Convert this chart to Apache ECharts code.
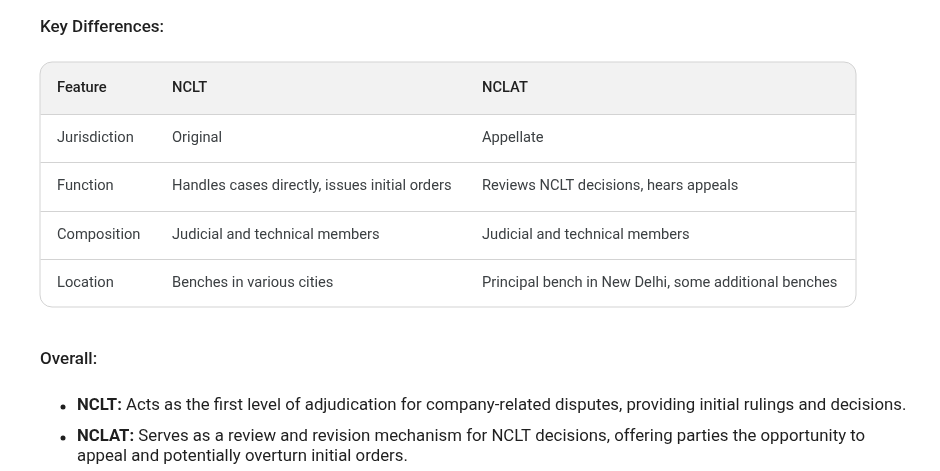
<!DOCTYPE html>
<html><head><meta charset="utf-8">
<script src="https://cdn.jsdelivr.net/npm/echarts@6/dist/echarts.min.js"></script>
<style>html,body{margin:0;background:#fff}#c{width:940px;height:471px}</style>
</head><body><div id="c"></div>
<script>
var title = "Key Differences:";
var headers = ["Feature", "NCLT", "NCLAT"];
var features = ["Jurisdiction", "Function", "Composition", "Location"];
var ncltCol = ["Original", "Handles cases directly, issues initial orders", "Judicial and technical members", "Benches in various cities"];
var nclatCol = ["Appellate", "Reviews NCLT decisions, hears appeals", "Judicial and technical members", "Principal bench in New Delhi, some additional benches"];
var overallTitle = "Overall:";
var bulletTerms = ["NCLT:", "NCLAT:"];
var bulletLines = [
  [" Acts as the first level of adjudication for company-related disputes, providing initial rulings and decisions."],
  [" Serves as a review and revision mechanism for NCLT decisions, offering parties the opportunity to", "appeal and potentially overturn initial orders."]
];

var FONT = "Roboto, 'Noto Sans', sans-serif";
var chart = echarts.init(document.getElementById('c'));
var g = [];
var colX = [57, 172, 482];
var rowY = [88, 138, 186, 235, 283];
var lineY = [114, 162, 211, 259];
g.push({type:'text', x:40, y:28, style:{text:title, font:'500 17px '+FONT, fill:'#1f1f1f', verticalAlign:'middle'}});
g.push({type:'rect', shape:{x:40, y:62, width:816, height:52, r:[12,12,0,0]}, style:{fill:'#f2f2f2'}});
g.push({type:'rect', shape:{x:40, y:62, width:816, height:245, r:12}, style:{fill:'none', stroke:'#d3d3d3', lineWidth:1}});
lineY.forEach(function(y){ g.push({type:'line', shape:{x1:40.5, y1:y+0.5, x2:855.5, y2:y+0.5}, style:{stroke:'#d3d3d3', lineWidth:1}}); });
headers.forEach(function(h,i){ g.push({type:'text', x:colX[i], y:rowY[0], style:{text:h, font:'500 14.7px '+FONT, fill:'#1f1f1f', verticalAlign:'middle'}}); });
features.forEach(function(f,r){
  [f, ncltCol[r], nclatCol[r]].forEach(function(t,i){
    g.push({type:'text', x:colX[i], y:rowY[r+1], style:{text:t, font:'14.7px '+FONT, fill:'#3c4043', verticalAlign:'middle'}});
  });
});
g.push({type:'text', x:40, y:360, style:{text:overallTitle, font:'500 17px '+FONT, fill:'#1f1f1f', verticalAlign:'middle'}});
var by = [406, 437];
bulletTerms.forEach(function(term,i){
  g.push({type:'circle', shape:{cx:63, cy:by[i]+1, r:2.5}, style:{fill:'#1f1f1f'}});
  g.push({type:'text', x:77, y:by[i], style:{text:'{b|'+term+'}{n|'+bulletLines[i][0]+'}', verticalAlign:'middle',
    rich:{b:{font:'bold 16.7px '+FONT, fill:'#1f1f1f'}, n:{font:'16.8px '+FONT, fill:'#1f1f1f'}}}});
  for (var k=1;k<bulletLines[i].length;k++){
    g.push({type:'text', x:77, y:by[i]+20*k, style:{text:bulletLines[i][k], font:'16.8px '+FONT, fill:'#1f1f1f', verticalAlign:'middle'}});
  }
});
chart.setOption({backgroundColor:'#fff', graphic:g});
</script></body></html>
